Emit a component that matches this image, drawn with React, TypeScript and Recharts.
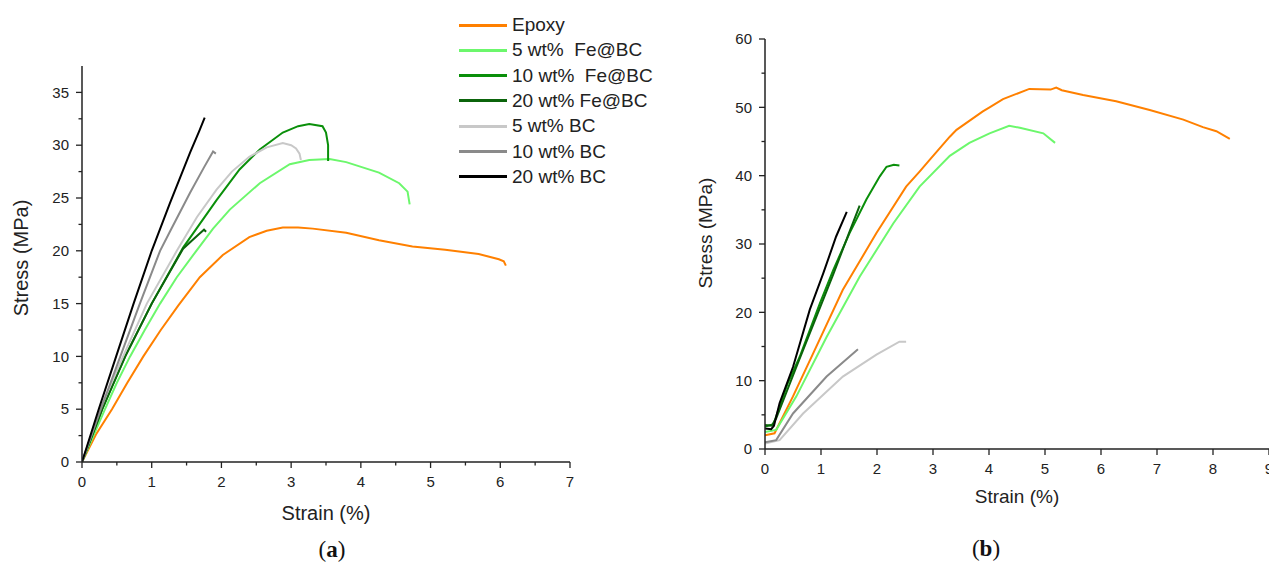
import { LineChart, Line, XAxis, YAxis } from 'recharts';

// legend labels and colours, same order for both panels
const seriesNames = ['Epoxy', '5 wt%  Fe@BC', '10 wt%  Fe@BC', '20 wt% Fe@BC', '5 wt% BC', '10 wt% BC', '20 wt% BC'];
const seriesColors = ['#ff8000', '#6cf76c', '#0a8f0a', '#0b640b', '#c8c8c8', '#8a8a8a', '#000000'];

// panel (a) — strain (%), stress (MPa)
const epoxyA = [[0, 0], [0.2, 2.6], [0.43, 5], [0.65, 7.5], [0.88, 10], [1.13, 12.5], [1.38, 14.8], [1.69, 17.5], [2.02, 19.6], [2.4, 21.3], [2.65, 21.9], [2.88, 22.2], [3.1, 22.2], [3.31, 22.1], [3.79, 21.7], [4.26, 21.0], [4.74, 20.4], [5.21, 20.1], [5.69, 19.7], [5.98, 19.2], [6.05, 19.0], [6.08, 18.6]];
const fe5A = [[0, 0], [0.33, 5], [0.5, 7.5], [0.69, 10], [0.9, 12.5], [1.12, 15], [1.36, 17.5], [1.64, 20], [1.88, 22.1], [2.12, 23.9], [2.55, 26.4], [2.98, 28.2], [3.26, 28.6], [3.55, 28.7], [3.79, 28.4], [4.26, 27.4], [4.55, 26.4], [4.67, 25.6], [4.7, 24.4]];
const fe10A = [[0, 0], [0.29, 5], [0.62, 10], [1.0, 15], [1.45, 20.3], [1.93, 24.8], [2.26, 27.7], [2.55, 29.6], [2.88, 31.2], [3.1, 31.8], [3.26, 32.0], [3.45, 31.8], [3.5, 31.2], [3.53, 30.0], [3.53, 28.5]];
const fe20A = [[0, 0], [0.29, 5], [0.62, 10], [1.0, 15], [1.45, 20.2], [1.68, 21.6], [1.75, 22.0], [1.78, 21.8]];
const bc5A = [[0, 0], [0.26, 5], [0.59, 10], [0.93, 15], [1.36, 20], [1.65, 23.2], [1.93, 25.8], [2.15, 27.5], [2.4, 28.9], [2.65, 29.8], [2.88, 30.2], [3.0, 30.0], [3.07, 29.7], [3.12, 29.2], [3.14, 28.6]];
const bc10A = [[0, 0], [0.27, 5], [0.55, 10], [0.83, 15], [1.12, 20], [1.26, 21.8], [1.55, 25.5], [1.75, 27.9], [1.88, 29.4], [1.92, 29.2]];
const bc20A = [[0, 0], [0.24, 5], [0.49, 10], [0.74, 15], [1.0, 20], [1.26, 24.5], [1.55, 29.3], [1.68, 31.3], [1.76, 32.6]];

// panel (b)
const epoxyB = [[0, 2.0], [0.17, 2.3], [0.5, 7.7], [0.86, 14.0], [1.39, 23.3], [1.99, 31.6], [2.52, 38.4], [2.76, 40.6], [2.94, 42.3], [3.3, 45.7], [3.42, 46.7], [3.89, 49.4], [4.01, 50.0], [4.25, 51.2], [4.72, 52.7], [5.1, 52.6], [5.2, 52.9], [5.3, 52.5], [5.68, 51.8], [6.27, 50.9], [6.87, 49.6], [7.47, 48.2], [7.82, 47.1], [8.06, 46.5], [8.3, 45.4]];
const fe5B = [[0, 2.5], [0.2, 2.8], [0.56, 7.7], [1.1, 16.4], [1.69, 25.2], [2.29, 33.0], [2.76, 38.4], [3.3, 42.9], [3.65, 44.8], [4.01, 46.2], [4.36, 47.3], [4.55, 47.0], [4.97, 46.2], [5.18, 44.8]];
const fe10B = [[0, 3.3], [0.1, 3.5], [0.15, 3.6], [0.4, 9.5], [0.62, 13.5], [0.98, 21.3], [1.22, 26.2], [1.51, 31.6], [1.81, 36.5], [2.05, 39.9], [2.17, 41.3], [2.3, 41.6], [2.4, 41.5]];
const fe20B = [[0, 3.5], [0.12, 3.4], [0.2, 4.5], [0.56, 12.0], [0.92, 19.4], [1.22, 25.6], [1.51, 31.8], [1.69, 35.6]];
const bc5B = [[0, 0.8], [0.26, 1.3], [0.68, 5.2], [1.39, 10.6], [1.99, 13.8], [2.4, 15.7], [2.52, 15.7]];
const bc10B = [[0, 1.0], [0.2, 1.3], [0.5, 5.2], [1.1, 10.6], [1.66, 14.6]];
const bc20B = [[0, 3.0], [0.11, 2.9], [0.16, 3.4], [0.26, 6.7], [0.5, 12.0], [0.8, 20.4], [1.04, 25.7], [1.27, 31.1], [1.46, 34.7]];

const xTicksA = [0, 0.5, 1, 1.5, 2, 2.5, 3, 3.5, 4, 4.5, 5, 5.5, 6, 6.5, 7];
const yTicksA = [0, 2.5, 5, 7.5, 10, 12.5, 15, 17.5, 20, 22.5, 25, 27.5, 30, 32.5, 35];
const xTicksB = [0, 1, 2, 3, 4, 5, 6, 7, 8, 9];
const yTicksB = [0, 5, 10, 15, 20, 25, 30, 35, 40, 45, 50, 55, 60];

const panelA = [epoxyA, fe5A, fe10A, fe20A, bc5A, bc10A, bc20A];
const panelB = [epoxyB, fe5B, fe10B, fe20B, bc5B, bc10B, bc20B];

const FONT = '"Liberation Sans", Arial, sans-serif';
const INK = '#222';

const toPoints = (pts: number[][]) => pts.map(([x, y]) => ({ x, y }));

const AxisTick = (props: any) => {
    const { x, y, payload, orient, major } = props;
    const v = payload.value;
    const isMajor = Math.abs(v / major - Math.round(v / major)) < 1e-6;
    const len = isMajor ? 6 : 3.5;
    if (orient === 'bottom') {
        return (
            <g>
                <line x1={x} y1={y} x2={x} y2={y + len} stroke={INK} strokeWidth={1.3} />
                {isMajor && (
                    <text x={x} y={y + 20} dy="0.35em" textAnchor="middle" fontSize={15} fontFamily={FONT} fill={INK}>
                        {v}
                    </text>
                )}
            </g>
        );
    }
    return (
        <g>
            <line x1={x} y1={y} x2={x - len} y2={y} stroke={INK} strokeWidth={1.3} />
            {isMajor && (
                <text x={x - 13} y={y} dy="0.35em" textAnchor="end" fontSize={15} fontFamily={FONT} fill={INK}>
                    {v}
                </text>
            )}
        </g>
    );
};

const Txt = ({ cx, cy, size, rotate, children }: any) => (
    <div
        style={{
            position: 'absolute',
            left: cx,
            top: cy,
            transform: `translate(-50%, -50%)${rotate ? ' rotate(-90deg)' : ''}`,
            fontFamily: FONT,
            fontSize: size,
            color: INK,
            whiteSpace: 'nowrap',
        }}
    >
        {children}
    </div>
);

const Panel = ({ series, width, height, margin, xDomain, yDomain, xTicks, yTicks, xMajor, yMajor }: any) => (
    <LineChart width={width} height={height} margin={margin}>
        <XAxis
            type="number"
            dataKey="x"
            domain={xDomain}
            ticks={xTicks}
            interval={0}
            height={1}
            tickSize={0}
            tickMargin={0}
            tickLine={false}
            axisLine={{ stroke: INK, strokeWidth: 1.5 }}
            tick={(p: any) => <AxisTick {...p} orient="bottom" major={xMajor} />}
            allowDataOverflow
        />
        <YAxis
            type="number"
            dataKey="y"
            domain={yDomain}
            ticks={yTicks}
            interval={0}
            width={1}
            tickSize={0}
            tickMargin={0}
            tickLine={false}
            axisLine={{ stroke: INK, strokeWidth: 1.5 }}
            tick={(p: any) => <AxisTick {...p} orient="left" major={yMajor} />}
            allowDataOverflow
        />
        {series.map((pts: number[][], i: number) => (
            <Line
                key={seriesNames[i]}
                data={toPoints(pts)}
                dataKey="y"
                type="linear"
                stroke={seriesColors[i]}
                strokeWidth={2}
                dot={false}
                activeDot={false}
                isAnimationActive={false}
            />
        ))}
    </LineChart>
);

const App = () => {
    return (
        <div style={{ position: 'absolute', left: 0, top: 0, width: 1269, height: 565, background: '#fff', overflow: 'hidden' }}>
            <div style={{ position: 'absolute', left: 0, top: 0 }}>
                <Panel
                    series={panelA}
                    width={600}
                    height={500}
                    margin={{ top: 66, right: 30, bottom: 37, left: 81 }}
                    xDomain={[0, 7]}
                    yDomain={[0, 37.5]}
                    xTicks={xTicksA}
                    yTicks={yTicksA}
                    xMajor={1}
                    yMajor={5}
                />
            </div>
            <div style={{ position: 'absolute', left: 700, top: 0 }}>
                <Panel
                    series={panelB}
                    width={569}
                    height={565}
                    margin={{ top: 39, right: 0, bottom: 115, left: 64 }}
                    xDomain={[0, 9]}
                    yDomain={[0, 60]}
                    xTicks={xTicksB}
                    yTicks={yTicksB}
                    xMajor={1}
                    yMajor={10}
                />
            </div>

            {/* legend */}
            {seriesNames.map((name, i) => (
                <div
                    key={name}
                    style={{ position: 'absolute', left: 459, top: 25 + i * 25.3, transform: 'translateY(-50%)', display: 'flex', alignItems: 'center' }}
                >
                    <div style={{ width: 48, height: 3, background: seriesColors[i] }} />
                    <span style={{ marginLeft: 5, fontFamily: FONT, fontSize: 19, color: INK, whiteSpace: 'pre' }}>{name}</span>
                </div>
            ))}

            <Txt cx={21} cy={258} size={20} rotate>Stress (MPa)</Txt>
            <Txt cx={326} cy={513} size={20}>Strain (%)</Txt>
            <Txt cx={706} cy={233} size={19} rotate>Stress (MPa)</Txt>
            <Txt cx={1017} cy={497} size={19}>Strain (%)</Txt>

            <div style={{ position: 'absolute', left: 332, top: 550, transform: 'translate(-50%, -50%)', fontFamily: '"Liberation Serif", serif', fontSize: 23, color: '#111' }}>
                (<b>a</b>)
            </div>
            <div style={{ position: 'absolute', left: 986, top: 549, transform: 'translate(-50%, -50%)', fontFamily: '"Liberation Serif", serif', fontSize: 23, color: '#111' }}>
                (<b>b</b>)
            </div>
        </div>
    );
};

export default App;
